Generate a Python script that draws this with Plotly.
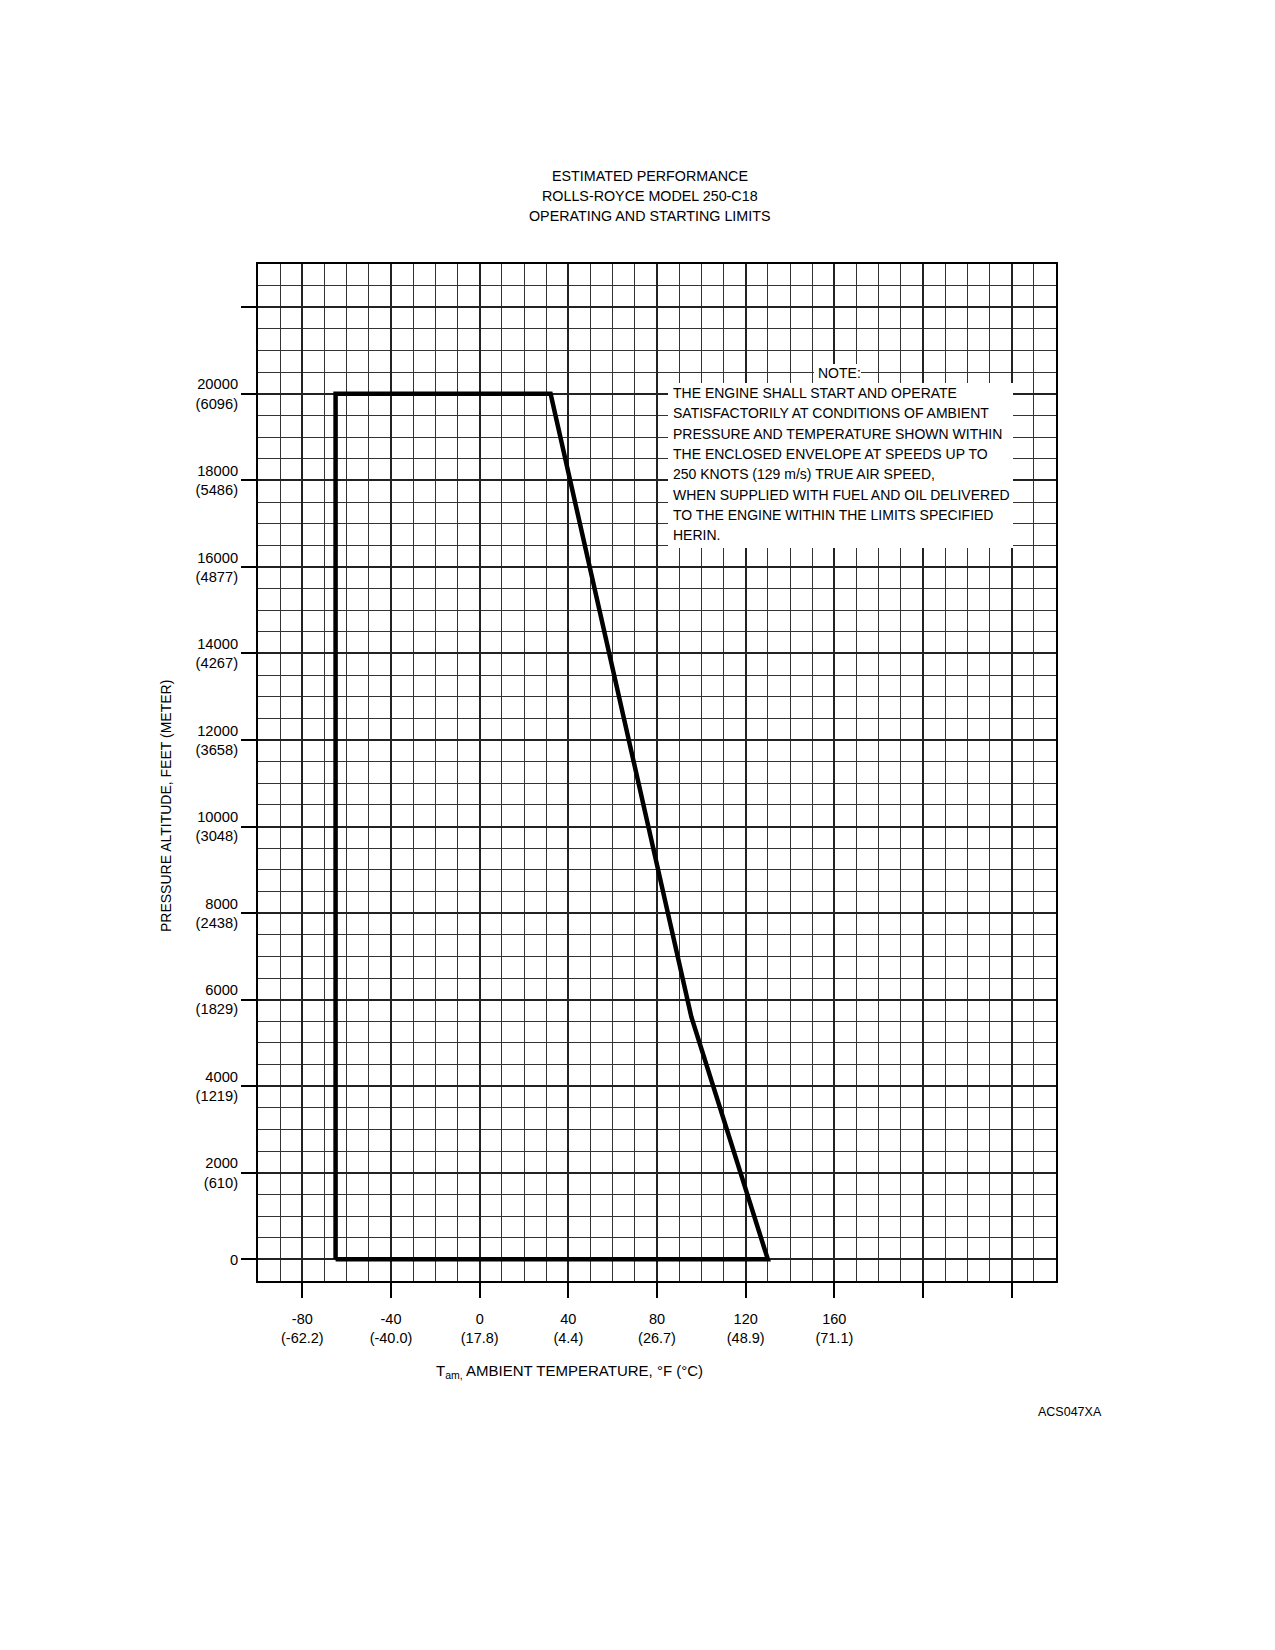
import plotly.graph_objects as go

# envelope corners, deg F / feet
temp_f = [-65, -65, 32, 95.5, 130, -65]
alt_ft = [0, 20000, 20000, 5600, 0, 0]

x_ticks = [-80, -40, 0, 40, 80, 120, 160, 200, 240]
x_tick_f = ['-80', '-40', '0', '40', '80', '120', '160', '', '']
x_tick_c = ['(-62.2)', '(-40.0)', '(17.8)', '(4.4)', '(26.7)', '(48.9)', '(71.1)', '', '']

y_ticks = [0, 2000, 4000, 6000, 8000, 10000, 12000, 14000, 16000, 18000, 20000, 22000]
y_tick_ft = ['0', '2000', '4000', '6000', '8000', '10000', '12000', '14000', '16000', '18000', '20000', '']
y_tick_m = ['', '(610)', '(1219)', '(1829)', '(2438)', '(3048)', '(3658)', '(4267)', '(4877)', '(5486)', '(6096)', '']

title_lines = ['ESTIMATED PERFORMANCE', 'ROLLS-ROYCE MODEL 250-C18', 'OPERATING AND STARTING LIMITS']
note_lines = [
    'THE ENGINE SHALL START AND OPERATE',
    'SATISFACTORILY AT CONDITIONS OF AMBIENT',
    'PRESSURE AND TEMPERATURE SHOWN WITHIN',
    'THE ENCLOSED ENVELOPE AT SPEEDS UP TO',
    '250 KNOTS (129 m/s) TRUE AIR SPEED,',
    'WHEN SUPPLIED WITH FUEL AND OIL DELIVERED',
    'TO THE ENGINE WITHIN THE LIMITS SPECIFIED',
    'HERIN.',
]

FONT = 'Liberation Sans Narrow, Arial Narrow, Liberation Sans, sans-serif'

# plot area in page pixels (used only to place text)
L, R, T, B = 258, 1056, 264, 1281


def px_x(p):
    return (p - L) / (R - L)


def px_y(p):
    return (B - p) / (B - T)


x_text = [f if not c else f + '<br>' + c for f, c in zip(x_tick_f, x_tick_c)]
y_text = [f if not m else f + '<br>' + m for f, m in zip(y_tick_ft, y_tick_m)]

fig = go.Figure()
fig.add_trace(go.Scatter(x=temp_f, y=alt_ft, mode='lines',
                         line=dict(color='black', width=4.5), showlegend=False,
                         hoverinfo='skip'))

fig.update_layout(
    width=1259, height=1634,
    margin=dict(l=L - 8, r=1259 - (R - 8), t=T - 8, b=1634 - (B - 8)),
    paper_bgcolor='white', plot_bgcolor='white',
    font=dict(family=FONT, color='black', size=15),
)

fig.update_xaxes(
    range=[-100, 260], tickmode='array', tickvals=x_ticks, ticktext=x_text,
    ticks='outside', ticklen=15, tickwidth=2, tickcolor='black',
    ticklabelstandoff=9,
    showgrid=True, gridcolor='#222', gridwidth=2,
    minor=dict(tickmode='linear', tick0=0, dtick=10, showgrid=True,
               gridcolor='#333', gridwidth=1.3, ticks=''),
    showline=True, mirror=True, linecolor='black', linewidth=2,
    zeroline=False, tickfont=dict(size=14.5),
)
fig.update_yaxes(
    range=[-500, 23000], tickmode='array', tickvals=y_ticks, ticktext=y_text,
    ticks='outside', ticklen=15, tickwidth=2, tickcolor='black',
    ticklabelstandoff=0,
    showgrid=True, gridcolor='#222', gridwidth=2,
    minor=dict(tickmode='linear', tick0=0, dtick=500, showgrid=True,
               gridcolor='#333', gridwidth=1.3, ticks=''),
    showline=True, mirror=True, linecolor='black', linewidth=2,
    zeroline=False, tickfont=dict(size=14.7),
)

# white panel behind the note
fig.add_shape(type='rect', xref='paper', yref='paper',
              x0=px_x(668), x1=px_x(1013), y0=px_y(548), y1=px_y(383),
              fillcolor='white', line=dict(width=0), layer='above')
fig.add_shape(type='rect', xref='paper', yref='paper',
              x0=px_x(814), x1=px_x(861), y0=px_y(383), y1=px_y(364),
              fillcolor='white', line=dict(width=0), layer='above')

ann = []
for i, t in enumerate(title_lines):
    ann.append(dict(text=t, x=px_x(650), y=px_y(176 + 20 * i), xref='paper', yref='paper',
                    showarrow=False, xanchor='center', yanchor='middle',
                    font=dict(size=14.3)))
ann.append(dict(text='NOTE:', x=px_x(816), y=px_y(373), xref='paper', yref='paper',
                showarrow=False, xanchor='left', yanchor='middle', font=dict(size=14)))
for i, t in enumerate(note_lines):
    ann.append(dict(text=t, x=px_x(671), y=px_y(393 + 20.3 * i), xref='paper', yref='paper',
                    showarrow=False, xanchor='left', yanchor='middle', font=dict(size=14)))
ann.append(dict(text='PRESSURE ALTITUDE, FEET (METER)', textangle=-90,
                x=px_x(166), y=px_y(806), xref='paper', yref='paper',
                showarrow=False, xanchor='center', yanchor='middle', font=dict(size=14)))
ann.append(dict(text='T<sub>am,</sub> AMBIENT TEMPERATURE, °F (°C)',
                x=px_x(434), y=px_y(1371), xref='paper', yref='paper',
                showarrow=False, xanchor='left', yanchor='middle', font=dict(size=15)))
ann.append(dict(text='ACS047XA', x=px_x(1104), y=px_y(1412), xref='paper', yref='paper',
                showarrow=False, xanchor='right', yanchor='middle', font=dict(size=12.5)))
fig.update_layout(annotations=ann)

fig.write_html('out.html')
